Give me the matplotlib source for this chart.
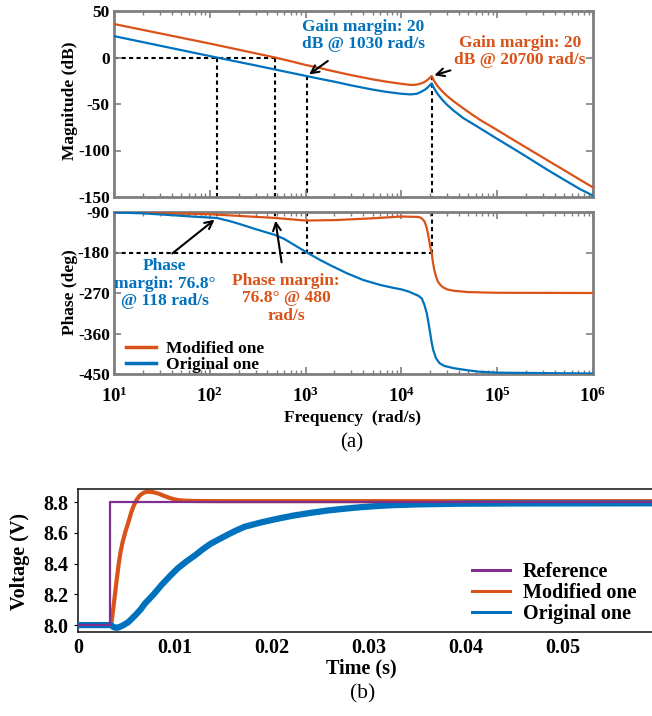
import numpy as np
import matplotlib
matplotlib.use("Agg")
import matplotlib.pyplot as plt
from matplotlib.lines import Line2D

plt.rcParams['font.family'] = ['Liberation Serif', 'DejaVu Serif']
plt.rcParams['font.weight'] = 'bold'
plt.rcParams['axes.unicode_minus'] = False
plt.rcParams['mathtext.fontset'] = 'custom'
plt.rcParams['mathtext.rm'] = 'Liberation Serif:bold'
plt.rcParams['mathtext.it'] = 'Liberation Serif:bold'
plt.rcParams['mathtext.bf'] = 'Liberation Serif:bold'

C_MOD = '#D95319'
C_ORIG = '#0072BD'
C_REF = '#7E2F8E'
GREY = '#7f7f7f'

# ---- Bode data (rad/s, dB, deg) ----
f_mag_mod = [10, 100, 480, 700, 1000, 1500, 2000, 3000, 5000, 7000, 10000, 12000,
             13500, 15000, 16500, 18000, 19500, 20700, 21500, 22500, 24000, 26500,
             29700, 35000, 44000, 55000, 66000, 100000, 146000, 220000, 331000,
             500000, 731000, 1e6]
mag_mod = [36, 15, 0, -4, -8, -12, -15, -19, -23.5, -26, -28.3, -29.3,
           -29.5, -28.8, -27.5, -25.5, -22.5, -20, -23.5, -27, -31, -36,
           -41, -47, -54.5, -61.5, -67, -78, -88.3, -99.3, -110.2,
           -121.2, -131.4, -139.7]

f_mag_orig = [10, 118, 300, 600, 1030, 1500, 2000, 3000, 5000, 7000, 10000, 12500,
              14500, 16000, 18000, 19500, 20700, 21500, 22500, 24000, 26500, 29700,
              35000, 44000, 55000, 66000, 100000, 146000, 220000, 331000, 500000,
              731000, 1e6]
mag_orig = [23, 0, -8.5, -15, -20, -23.5, -26, -30, -34.5, -37, -39, -39.7,
            -39, -37, -34, -30.5, -27.9, -31.5, -35, -39.5, -45, -50.5,
            -57, -65, -71, -76, -87.5, -97.7, -109, -120.5, -131.5,
            -141.5, -148.5]

f_ph_mod = [10, 100, 480, 1000, 2000, 5000, 10000, 15000, 16000, 17000, 17500, 18000,
            18500, 19000, 19500, 20000, 20700, 21200, 22000, 23000, 24000, 25000,
            27000, 30000, 35000, 50000, 100000, 1e6]
ph_mod = [-90.5, -95, -103.2, -109, -108, -104, -100, -101, -103, -108, -112, -119,
          -128, -140, -153, -168, -180, -198, -218, -234, -244, -250,
          -257, -262, -265, -268, -269.5, -270]

f_ph_orig = [10, 20, 40, 70, 118, 160, 200, 300, 400, 480, 600, 800, 1030, 1400, 1800,
             2690, 3980, 5980, 8000, 10000, 12000, 13200, 15000, 16300, 17300, 18400,
             19200, 20000, 20700, 21500, 23000, 25000, 28000, 35000, 50000, 66000,
             1e5, 1e6]
ph_orig = [-91, -93, -97, -100.5, -103.2, -110, -116, -128, -136, -141, -150, -166,
           -180, -196, -208, -226, -241, -252, -258, -262, -267, -271, -276, -282,
           -295, -315, -337, -360, -380, -397, -415, -426, -432, -437, -442, -445,
           -447, -449]

# crossover / margin frequencies
wc_orig, wc_mod = 118, 480
wpc_orig, wpc_mod = 1030, 20700
pm = 76.8
gm = 20

freq_ticks = [1e1, 1e2, 1e3, 1e4, 1e5, 1e6]
freq_labels = [r'$10^{1}$', r'$10^{2}$', r'$10^{3}$', r'$10^{4}$', r'$10^{5}$', r'$10^{6}$']
mag_ticks = [50, 0, -50, -100, -150]
ph_ticks = [-90, -180, -270, -360, -450]

# ---- step response data (s, V) ----
t_ref = [0, 0.0033, 0.0033, 0.06]
v_ref = [8.0, 8.0, 8.8, 8.8]

t_mod = [0, 0.0034, 0.0035, 0.0036, 0.0037, 0.0038, 0.0040, 0.0042, 0.0044, 0.0046,
         0.0049, 0.0052, 0.0055, 0.0058, 0.0061, 0.0064, 0.0068, 0.0072, 0.0077,
         0.0083, 0.0088, 0.0093, 0.0098, 0.0103, 0.011, 0.012, 0.015, 0.06]
v_mod = [8.0, 8.0, 8.04, 8.09, 8.14, 8.195, 8.30, 8.40, 8.48, 8.54,
         8.61, 8.67, 8.735, 8.785, 8.82, 8.845, 8.862, 8.868, 8.865,
         8.855, 8.842, 8.83, 8.82, 8.813, 8.809, 8.807, 8.806, 8.806]

t_orig = [0, 0.0034, 0.0037, 0.0040, 0.0043, 0.0047, 0.0052, 0.0056, 0.0060, 0.0065,
          0.0069, 0.0078, 0.0086, 0.0095, 0.0103, 0.0112, 0.0121, 0.0129, 0.0137,
          0.0146, 0.0155, 0.0163, 0.0172, 0.0189, 0.0206, 0.0222, 0.024, 0.0257,
          0.0275, 0.029, 0.031, 0.0325, 0.035, 0.039, 0.045, 0.06]
v_orig = [8.0, 8.0, 7.986, 7.982, 7.988, 8.0, 8.02, 8.045, 8.07, 8.105,
          8.14, 8.20, 8.26, 8.32, 8.37, 8.415, 8.455, 8.495, 8.53,
          8.56, 8.59, 8.615, 8.64, 8.668, 8.692, 8.712, 8.73, 8.745,
          8.757, 8.766, 8.775, 8.78, 8.785, 8.789, 8.791, 8.792]

time_ticks = [0, 0.01, 0.02, 0.03, 0.04, 0.05]
time_labels = ['0', '0.01', '0.02', '0.03', '0.04', '0.05']
volt_ticks = [8.0, 8.2, 8.4, 8.6, 8.8]
volt_labels = ['8.0', '8.2', '8.4', '8.6', '8.8']

W, H = 652, 716
fig = plt.figure(figsize=(W / 100, H / 100), dpi=100)


def box(x0, y0, x1, y1):
    # pixel box (top-left origin) -> figure fraction rect
    return [x0 / W, 1 - y1 / H, (x1 - x0) / W, (y1 - y0) / H]


ax_mag = fig.add_axes(box(114, 11, 593, 197))
ax_ph = fig.add_axes(box(114, 212, 593, 374))
ax_t = fig.add_axes(box(78, 489, 660, 632))

dot = dict(color='k', lw=1.5, ls=(0, (2, 1.6)), zorder=1)

# magnitude
ax_mag.semilogx(f_mag_mod, mag_mod, color=C_MOD, lw=1.6, zorder=3)
ax_mag.semilogx(f_mag_orig, mag_orig, color=C_ORIG, lw=1.6, zorder=3)
ax_mag.plot([10, wc_mod], [0, 0], **dot)
ax_mag.plot([wc_orig, wc_orig], [0, -150], **dot)
ax_mag.plot([wc_mod, wc_mod], [0, -150], **dot)
ax_mag.plot([wpc_orig, wpc_orig], [-gm, -150], **dot)
ax_mag.plot([wpc_mod, wpc_mod], [-gm, -150], **dot)
ax_mag.set_xlim(10, 1e6)
ax_mag.set_ylim(-150, 50)
ax_mag.set_yticks(mag_ticks)
ax_mag.set_xticks(freq_ticks)
ax_mag.set_xticklabels([])

arr = dict(arrowstyle='->', color='k', lw=1.5, mutation_scale=14)
ax_mag.annotate('', xy=(wpc_orig, -gm), xytext=(1800, -2), arrowprops=arr)
ax_mag.text(3980, 24, 'Gain margin: %d\ndB @ %d rad/s' % (gm, wpc_orig), color=C_ORIG,
            ha='center', va='center', fontsize=12.5, linespacing=1.1)
ax_mag.annotate('', xy=(wpc_mod, -gm), xytext=(34600, -13), arrowprops=arr)
ax_mag.text(173000, 6.5, 'Gain margin: %d\ndB @ %d rad/s' % (gm, wpc_mod), color=C_MOD,
            ha='center', va='center', fontsize=12.5, linespacing=1.1)

# phase
ax_ph.semilogx(f_ph_mod, ph_mod, color=C_MOD, lw=1.6, zorder=3, label='Modified one')
ax_ph.semilogx(f_ph_orig, ph_orig, color=C_ORIG, lw=1.6, zorder=3, label='Original one')
ax_ph.plot([10, wpc_mod], [-180, -180], **dot)
ax_ph.plot([wc_orig, wc_orig], [-90, pm - 180], **dot)
ax_ph.plot([wc_mod, wc_mod], [-90, pm - 180], **dot)
ax_ph.plot([wpc_orig, wpc_orig], [-90, -180], **dot)
ax_ph.plot([wpc_mod, wpc_mod], [-90, -180], **dot)
ax_ph.set_xlim(10, 1e6)
ax_ph.set_ylim(-450, -90)
ax_ph.set_yticks(ph_ticks)
ax_ph.set_xticks(freq_ticks, freq_labels)

ax_ph.annotate('', xy=(wc_orig, pm - 180), xytext=(38.5, -186), arrowprops=arr)
ax_ph.text(34, -249, 'Phase\nmargin: %.1f°\n@ %d rad/s' % (pm, wc_orig), color=C_ORIG,
           ha='center', va='center', fontsize=12.5, linespacing=1.1)
ax_ph.annotate('', xy=(wc_mod, pm - 180), xytext=(567, -208), arrowprops=arr)
ax_ph.text(624, -282, 'Phase margin:\n%.1f° @ %d\nrad/s' % (pm, wc_mod), color=C_MOD,
           ha='center', va='center', fontsize=12.5, linespacing=1.1)

leg_h = [Line2D([], [], color=C_MOD, lw=2.5), Line2D([], [], color=C_ORIG, lw=2.5)]
ax_ph.legend(leg_h, ['Modified one', 'Original one'], loc='lower left', frameon=False,
             fontsize=12.5, handlelength=1.7, handletextpad=0.6, labelspacing=0.0,
             borderaxespad=0.3, bbox_to_anchor=(0.0, -0.07))

for ax in (ax_mag, ax_ph):
    for s in ax.spines.values():
        s.set_color(GREY)
        s.set_linewidth(2)
    ax.tick_params(which='both', direction='in', top=True, right=True, color=GREY,
                   labelsize=12.5)
    ax.tick_params(which='major', length=5, width=1.2, pad=3)
    ax.tick_params(which='minor', length=3, width=1)
    ax.tick_params(axis='x', which='major', pad=9, labelsize=13.5)

# step response
ax_t.plot(t_mod, v_mod, color=C_MOD, lw=3, zorder=2)
ax_t.plot(t_orig, v_orig, color=C_ORIG, lw=4.5, zorder=3)
ax_t.plot(t_ref, v_ref, color=C_REF, lw=1.6, zorder=4)
ax_t.set_xlim(0, 0.06)
ax_t.set_ylim(7.955, 8.885)
ax_t.set_xticks(time_ticks, time_labels)
ax_t.set_yticks(volt_ticks, volt_labels)
for s in ax_t.spines.values():
    s.set_color('#222222')
    s.set_linewidth(1.2)
ax_t.tick_params(axis='x', length=0, pad=4, labelsize=14.5)
ax_t.tick_params(axis='y', direction='out', length=3, pad=4, labelsize=14.5)
step_h = [Line2D([], [], color=c, lw=2.2) for c in (C_REF, C_MOD, C_ORIG)]
ax_t.legend(step_h, ['Reference', 'Modified one', 'Original one'], loc='lower right',
            frameon=False, fontsize=14.5, handlelength=1.9, handletextpad=0.6,
            labelspacing=0.05, bbox_to_anchor=(0.99, -0.07))

# axis titles
fig.text(70 / W, 1 - 101 / H, 'Magnitude (dB)', rotation=90, ha='center', va='center', fontsize=12.5)
fig.text(70 / W, 1 - 292 / H, 'Phase (deg)', rotation=90, ha='center', va='center', fontsize=12.5)
fig.text(352 / W, 1 - 418 / H, 'Frequency  (rad/s)', ha='center', va='center', fontsize=12.5)
fig.text(352 / W, 1 - 443 / H, '(a)', ha='center', va='center', fontsize=15, fontweight='normal')
fig.text(20 / W, 1 - 561 / H, 'Voltage (V)', rotation=90, ha='center', va='center', fontsize=14.5)
fig.text(361 / W, 1 - 668 / H, 'Time (s)', ha='center', va='center', fontsize=14.5)
fig.text(363 / W, 1 - 694 / H, '(b)', ha='center', va='center', fontsize=15.5, fontweight='normal')

fig.savefig('out.png', dpi=100)
